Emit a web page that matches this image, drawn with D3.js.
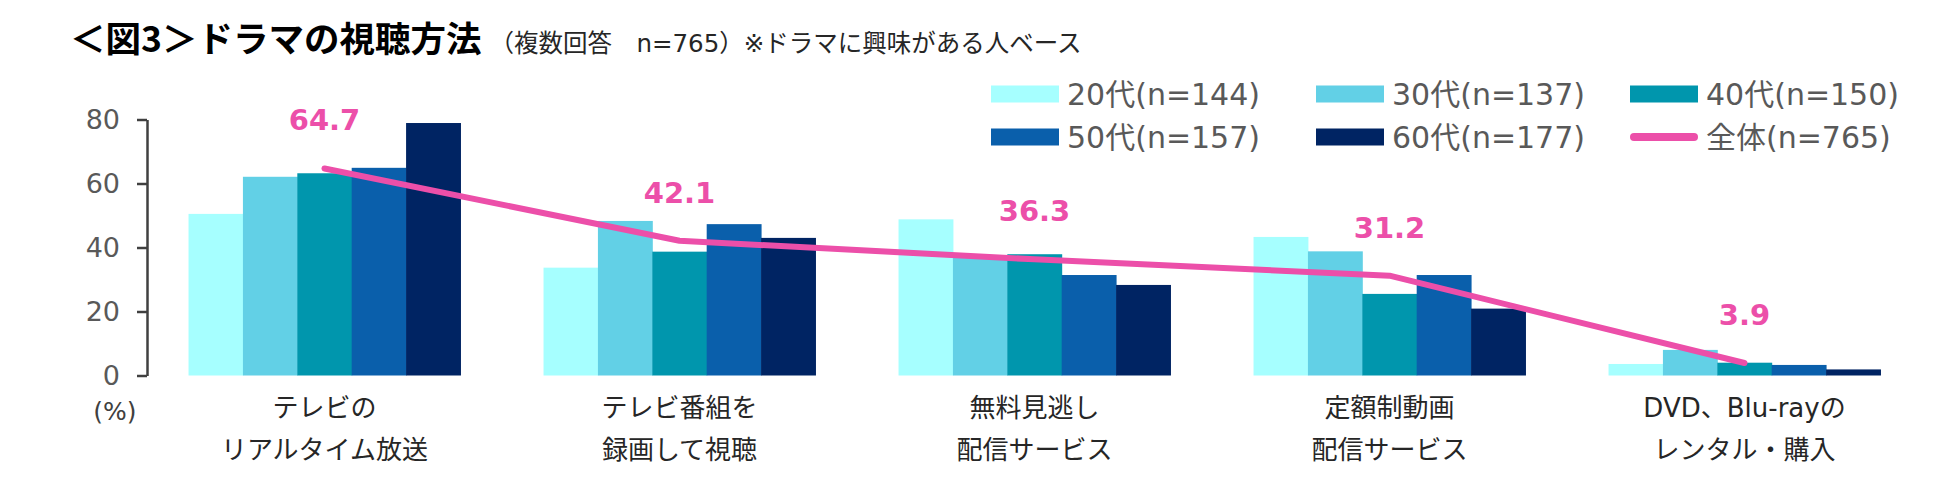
<!DOCTYPE html>
<meta charset="utf-8">
<head>
    <script src="https://d3js.org/d3.v7.min.js"></script>
    <style>
    body { margin: 0; background: white; }
    svg { display: block; background: white; font-family: "DejaVu Sans", "Noto Sans CJK JP", sans-serif; }
    </style>
</head>
<body>
    <svg id="svgid" width="1950" height="491"></svg>
    <script>
        // categories (two lines each)
        var categories = [
            ["テレビの", "リアルタイム放送"],
            ["テレビ番組を", "録画して視聴"],
            ["無料見逃し", "配信サービス"],
            ["定額制動画", "配信サービス"],
            ["DVD、Blu-rayの", "レンタル・購入"]
        ];
        var ageGroups = ["20代(n=144)", "30代(n=137)", "40代(n=150)", "50代(n=157)", "60代(n=177)"];
        var ageColors = ["#A6FFFF", "#62D0E6", "#0096AD", "#0A5FAB", "#002463"];

        // values per age group, one entry per category
        var v20 = [50.5, 33.7, 48.8, 43.3, 3.6];
        var v30 = [62.1, 48.3, 37.1, 38.8, 8.0];
        var v40 = [63.2, 38.7, 37.9, 25.5, 4.0];
        var v50 = [64.9, 47.3, 31.4, 31.4, 3.3];
        var v60 = [78.9, 43.0, 28.3, 20.9, 1.9];
        var total = [64.7, 42.1, 36.3, 31.2, 3.9];
        var totalLabel = "全体(n=765)";
        var yTicks = [0, 20, 40, 60, 80];

        var series = [v20, v30, v40, v50, v60];

        var svg = d3.select("#svgid");

        // title
        var title = svg.append("text").attr("x", 70).attr("y", 52);
        title.append("tspan")
            .style("font-family", "'Noto Sans CJK JP', sans-serif")
            .style("font-size", "35.5px").style("font-weight", "bold").style("fill", "#000")
            .text("＜図3＞ドラマの視聴方法");
        title.append("tspan")
            .attr("dx", 8)
            .style("font-size", "24.5px").style("fill", "#262626")
            .text("（複数回答　n=765）※ドラマに興味がある人ベース");

        var x = d3.scaleBand()
            .domain(d3.range(categories.length))
            .range([147, 1922])
            .paddingInner(0.234)
            .paddingOuter(0.117);

        var xSub = d3.scaleBand()
            .domain(d3.range(series.length))
            .range([0, x.bandwidth()]);

        var y = d3.scaleLinear().domain([0, 80]).range([375.5, 119.5]);

        // bars
        var groups = svg.append("g").selectAll("g")
            .data(categories)
            .enter().append("g")
            .attr("transform", function(d, i) { return "translate(" + x(i) + ",0)"; });

        groups.selectAll("rect")
            .data(function(d, i) { return series.map(function(s, k) { return {k: k, v: s[i]}; }); })
            .enter().append("rect")
            .attr("x", function(d) { return xSub(d.k); })
            .attr("width", xSub.bandwidth() + 0.5)
            .attr("y", function(d) { return y(d.v); })
            .attr("height", function(d) { return y(0) - y(d.v); })
            .style("fill", function(d) { return ageColors[d.k]; });

        // y axis
        var yAxis = svg.append("g")
            .attr("transform", "translate(147,0)")
            .call(d3.axisLeft(y).tickValues(yTicks).tickSize(10).tickSizeOuter(0).tickPadding(17));
        yAxis.select(".domain").style("stroke", "#404040").style("stroke-width", 2.5);
        yAxis.selectAll(".tick line").style("stroke", "#404040").style("stroke-width", 2.5);
        yAxis.selectAll(".tick text")
            .style("font-size", "27px").style("fill", "#595959")
            .style("font-family", "'DejaVu Sans', sans-serif");

        svg.append("text")
            .attr("x", 115).attr("y", 420)
            .attr("text-anchor", "middle")
            .style("font-size", "25px").style("fill", "#404040")
            .text("(%)");

        // category labels
        var cx = function(i) { return x(i) + x.bandwidth() / 2; };
        svg.append("g").selectAll("text")
            .data(categories)
            .enter().append("text")
            .attr("text-anchor", "middle")
            .style("font-size", "26px").style("fill", "#262626")
            .each(function(d, i) {
                var t = d3.select(this);
                d.forEach(function(line, j) {
                    t.append("tspan").attr("x", cx(i)).attr("y", 417 + j * 42).text(line);
                });
            });

        // total line
        var line = d3.line()
            .x(function(d, i) { return cx(i); })
            .y(function(d) { return y(d); });

        svg.append("path")
            .datum(total)
            .attr("d", line)
            .style("fill", "none")
            .style("stroke", "#EC4FA9")
            .style("stroke-width", 6)
            .style("stroke-linecap", "round")
            .style("stroke-linejoin", "round");

        svg.append("g").selectAll("text")
            .data(total)
            .enter().append("text")
            .attr("x", function(d, i) { return cx(i); })
            .attr("y", function(d) { return y(d) - 38; })
            .attr("text-anchor", "middle")
            .style("font-size", "29px").style("font-weight", "bold").style("fill", "#EC4FA9")
            .style("font-family", "'DejaVu Sans', sans-serif")
            .text(function(d) { return d.toFixed(1); });

        // legend
        var legendItems = ageGroups.concat([totalLabel]);
        var colX = [991, 1316, 1630];
        var rowY = [94, 137];
        var legend = svg.append("g").selectAll("g")
            .data(legendItems)
            .enter().append("g")
            .attr("transform", function(d, i) { return "translate(" + colX[i % 3] + "," + rowY[Math.floor(i / 3)] + ")"; });

        legend.each(function(d, i) {
            var g = d3.select(this);
            if (i < ageGroups.length) {
                g.append("rect").attr("x", 0).attr("y", -8.5).attr("width", 68).attr("height", 17)
                    .style("fill", ageColors[i]);
            } else {
                g.append("line").attr("x1", 4).attr("x2", 64).attr("y1", 0).attr("y2", 0)
                    .style("stroke", "#EC4FA9").style("stroke-width", 8).style("stroke-linecap", "round");
            }
            g.append("text").attr("x", 76).attr("y", 0).attr("dy", "0.36em")
                .style("font-size", "30px").style("fill", "#595959")
                .text(d);
        });
    </script>
</body>
